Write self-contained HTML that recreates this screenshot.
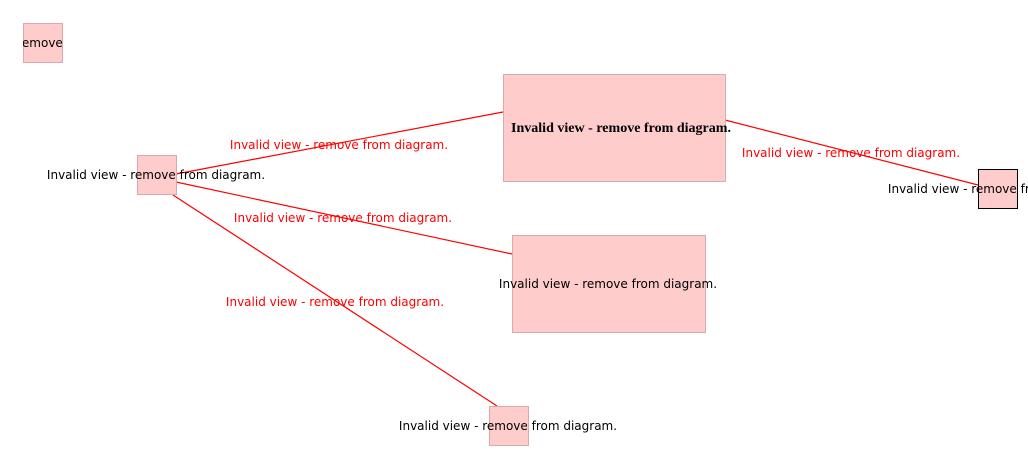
<!DOCTYPE html>
<html><head><style>body{margin:0;background:#fff}svg{display:block}</style></head><body>
<svg width="1028" height="456" xmlns="http://www.w3.org/2000/svg" font-family="DejaVu Sans, sans-serif" font-size="12">
<defs><clipPath id="ca"><rect x="23" y="23" width="40" height="40"/></clipPath></defs>
<g stroke="#ff0000" stroke-width="1.2">
<line x1="176" y1="174" x2="503" y2="112"/>
<line x1="725" y1="120" x2="978" y2="185"/>
<line x1="176" y1="182" x2="512" y2="254"/>
<line x1="173" y1="195" x2="497" y2="406"/>
</g>
<g fill="#ffcccc" stroke="#d9aaaa">
<rect x="23.5" y="23.5" width="39" height="39"/>
<rect x="137.5" y="155.5" width="39" height="39"/>
<rect x="503.5" y="74.5" width="222" height="107"/>
<rect x="512.5" y="235.5" width="193" height="97"/>
<rect x="489.5" y="406.5" width="39" height="39"/>
</g>
<rect x="978.5" y="169.5" width="39" height="39" fill="#ffcccc" stroke="#000"/>
<g text-anchor="middle" fill="#000">
<text x="43" y="47" clip-path="url(#ca)">Invalid view - remove from diagram.</text>
<text x="156" y="179">Invalid view - remove from diagram.</text>
<text x="621" y="132" font-family="Liberation Serif, serif" font-weight="bold" font-size="14" textLength="220" lengthAdjust="spacingAndGlyphs">Invalid view - remove from diagram.</text>
<text x="608" y="288">Invalid view - remove from diagram.</text>
<text x="508" y="430">Invalid view - remove from diagram.</text>
<text x="997" y="193">Invalid view - remove from diagram.</text>
</g>
<g text-anchor="middle" fill="#ff0000">
<text x="339" y="149">Invalid view - remove from diagram.</text>
<text x="851" y="157">Invalid view - remove from diagram.</text>
<text x="343" y="222">Invalid view - remove from diagram.</text>
<text x="335" y="306">Invalid view - remove from diagram.</text>
</g>
</svg>
</body></html>
